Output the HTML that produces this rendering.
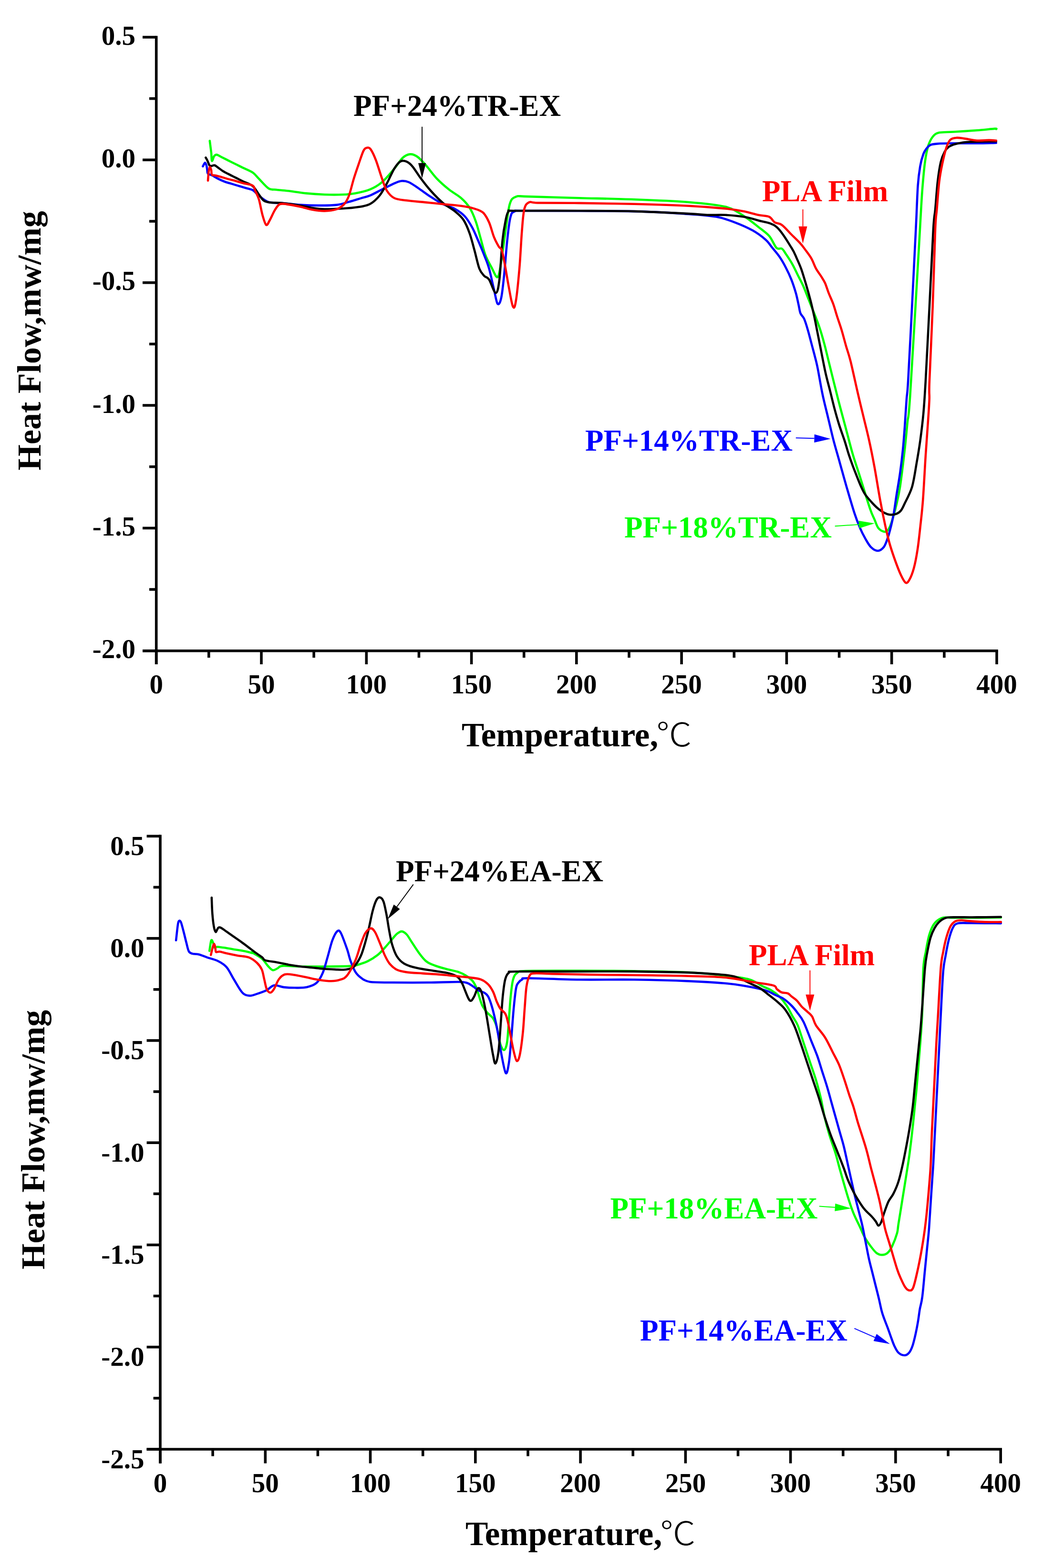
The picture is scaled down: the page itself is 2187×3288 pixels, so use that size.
<!DOCTYPE html>
<html><head><meta charset="utf-8"><style>
html,body{margin:0;padding:0;background:#fff;overflow:hidden;width:2187px;height:3288px;}
svg{display:block;}
</style></head><body>
<svg width="2187" height="3288" viewBox="0 0 2187 3288">
<rect width="2187" height="3288" fill="#fff"/>
<g fill="none" stroke-width="4.6" stroke-linejoin="round" stroke-linecap="round">
<path d="M439.8,295.3 C440.3,299.4 442.1,312.8 442.9,319.8 C443.7,326.8 443.4,336.1 444.4,337.4 C445.5,338.7 447.4,329.6 449.0,327.4 C450.7,325.3 452.0,324.1 454.4,324.4 C456.8,324.6 459.5,326.9 463.6,329.0 C467.6,331.0 473.8,334.1 478.9,336.6 C484.0,339.2 489.1,341.7 494.2,344.3 C499.3,346.8 503.5,349.0 509.5,351.9 C515.4,354.9 524.4,358.1 530.0,361.9 C535.5,365.7 537.3,369.2 542.9,374.8 C548.4,380.4 557.3,391.4 563.3,395.2 C569.2,399.0 571.8,396.9 578.6,397.8 C585.4,398.6 593.5,399.0 604.1,400.3 C614.7,401.6 629.6,404.1 642.3,405.4 C655.1,406.7 667.9,407.5 680.6,408.0 C693.4,408.4 708.2,408.4 718.9,408.0 C729.5,407.5 734.9,407.2 744.4,405.4 C753.8,403.6 766.1,401.2 775.5,397.3 C784.9,393.5 792.5,389.3 801.0,382.0 C809.5,374.8 819.3,362.5 826.5,354.0 C833.8,345.5 838.9,336.1 844.4,331.0 C849.9,325.9 854.6,323.8 859.7,323.4 C864.8,322.9 869.5,324.6 875.0,328.5 C880.5,332.3 886.1,338.7 892.9,346.3 C899.7,354.0 907.7,365.9 915.8,374.4 C923.9,382.9 932.8,390.5 941.3,397.3 C949.8,404.1 959.6,408.8 966.8,415.2 C974.1,421.6 979.6,427.5 984.7,435.6 C989.8,443.7 993.6,453.0 997.4,463.7 C1001.3,474.3 1004.3,487.5 1007.7,499.4 C1011.1,511.3 1014.0,524.9 1017.9,535.1 C1021.7,545.3 1026.4,553.0 1030.6,560.6 C1034.9,568.3 1040.0,583.1 1043.4,581.0 C1046.8,578.9 1048.3,564.0 1051.0,547.9 C1053.8,531.7 1057.0,504.1 1059.9,484.1 C1062.9,464.1 1065.3,439.9 1068.9,428.0 C1072.5,416.1 1075.3,415.3 1081.6,412.7 C1088.0,410.0 1084.9,411.7 1107.1,412.1 C1129.3,412.6 1177.7,414.2 1214.8,415.2 C1251.9,416.2 1291.4,416.8 1329.6,418.3 C1367.9,419.7 1412.5,421.5 1444.4,424.0 C1476.3,426.6 1501.8,428.8 1521.0,433.6 C1540.1,438.4 1547.8,445.7 1559.2,452.7 C1570.7,459.7 1580.9,468.7 1589.9,475.7 C1598.8,482.7 1606.4,487.5 1612.8,494.8 C1619.2,502.1 1623.7,515.2 1628.1,519.7 C1632.6,524.2 1636.3,519.5 1639.6,521.6 C1642.9,523.7 1644.2,527.2 1647.8,532.5 C1651.4,537.9 1657.1,546.2 1661.2,553.6 C1665.4,560.9 1668.9,568.9 1672.7,576.5 C1676.5,584.2 1680.4,590.9 1684.2,599.5 C1688.0,608.1 1691.8,618.6 1695.7,628.2 C1699.5,637.7 1703.3,647.0 1707.1,656.9 C1711.0,666.8 1715.1,677.0 1718.6,687.5 C1722.1,698.0 1725.0,708.2 1728.2,720.0 C1731.4,731.8 1732.9,738.7 1737.7,758.3 C1742.6,777.8 1751.6,814.6 1757.4,837.4 C1763.2,860.1 1767.6,875.7 1772.7,894.8 C1777.8,913.9 1782.9,934.6 1788.0,952.2 C1793.1,969.7 1797.3,980.9 1803.3,1000.0 C1809.4,1019.1 1819.3,1052.0 1824.4,1067.0 C1829.5,1081.9 1831.1,1083.2 1833.9,1089.9 C1836.8,1096.6 1838.4,1103.0 1841.6,1107.1 C1844.8,1111.3 1849.9,1113.8 1853.1,1114.8 C1856.2,1115.7 1858.5,1114.8 1860.7,1112.9 C1862.9,1111.0 1864.5,1107.8 1866.4,1103.3 C1868.4,1098.8 1870.0,1093.7 1872.2,1086.1 C1874.4,1078.4 1877.3,1068.6 1879.8,1057.4 C1882.4,1046.2 1884.6,1038.3 1887.5,1019.1 C1890.4,1000.0 1894.5,964.9 1897.1,942.6 C1899.6,920.3 1900.9,904.4 1902.8,885.2 C1904.7,866.1 1904.3,892.0 1908.5,827.8 C1912.7,763.6 1924.2,564.8 1927.9,500.0 C1931.7,435.2 1930.2,457.5 1931.3,439.0 C1932.4,420.5 1933.2,405.8 1934.6,389.3 C1936.0,372.7 1937.6,353.3 1939.6,339.5 C1941.5,325.7 1943.4,315.2 1946.2,306.3 C1948.9,297.5 1952.3,291.1 1956.1,286.4 C1960.0,281.7 1962.2,279.8 1969.4,278.1 C1976.6,276.5 1986.0,277.3 1999.3,276.5 C2012.5,275.7 2034.6,274.3 2049.0,273.2 C2063.4,272.1 2078.9,270.3 2085.5,269.9 C2092.1,269.4 2088.3,270.5 2088.8,270.7" stroke="#00ff00" />
<path d="M425.3,348.9 C426.1,347.6 428.6,341.5 429.9,341.2 C431.2,341.0 432.2,344.8 433.0,347.3 C433.7,349.9 434.0,353.7 434.5,356.5 C435.0,359.3 434.2,362.2 436.0,364.2 C437.8,366.1 441.9,366.3 445.2,368.0 C448.5,369.6 451.6,371.9 455.9,374.1 C460.2,376.3 466.1,379.1 471.2,381.0 C476.3,382.9 481.4,384.1 486.5,385.6 C491.6,387.1 496.7,388.6 501.8,390.2 C506.9,391.7 512.4,393.4 517.1,394.8 C521.8,396.2 526.5,396.8 530.0,398.6 C533.4,400.4 533.9,402.1 537.8,405.4 C541.6,408.7 548.4,415.0 553.1,418.2 C557.7,421.4 559.4,423.3 565.8,424.5 C572.2,425.8 580.7,425.0 591.3,425.8 C602.0,426.7 616.8,428.8 629.6,429.6 C642.3,430.5 655.1,430.9 667.9,430.9 C680.6,430.9 695.5,430.9 706.1,429.6 C716.8,428.4 723.1,425.6 731.6,423.3 C740.1,420.9 749.8,417.8 757.1,415.6 C764.5,413.4 768.2,413.1 775.5,410.1 C782.8,407.1 792.5,401.6 801.0,397.3 C809.5,393.1 819.7,387.6 826.5,384.6 C833.3,381.6 836.7,379.9 841.8,379.5 C846.9,379.1 851.2,379.5 857.1,382.0 C863.1,384.6 869.9,389.7 877.6,394.8 C885.2,399.9 894.6,407.1 903.1,412.7 C911.6,418.2 920.1,423.7 928.6,428.0 C937.1,432.2 946.4,433.9 954.1,438.2 C961.7,442.4 968.5,447.1 974.5,453.5 C980.4,459.8 985.1,467.9 989.8,476.4 C994.5,484.9 998.3,494.7 1002.6,504.5 C1006.8,514.3 1011.5,525.3 1015.3,535.1 C1019.1,544.9 1022.1,551.3 1025.5,563.2 C1028.9,575.1 1032.7,594.2 1035.7,606.5 C1038.7,618.9 1040.8,634.2 1043.4,637.1 C1045.9,640.1 1048.7,635.0 1051.0,624.4 C1053.4,613.8 1055.3,593.8 1057.4,573.4 C1059.5,553.0 1061.6,521.5 1063.8,501.9 C1065.9,482.4 1067.6,465.8 1070.2,456.0 C1072.7,446.2 1072.9,445.6 1079.1,443.3 C1085.2,440.9 1065.4,442.0 1107.1,442.0 C1148.9,442.0 1273.4,442.0 1329.6,443.1 C1385.8,444.3 1415.7,447.0 1444.4,448.9 C1473.1,450.8 1485.9,451.8 1501.8,454.6 C1517.8,457.5 1527.4,461.3 1540.1,466.1 C1552.9,470.9 1567.5,477.3 1578.4,483.3 C1589.2,489.4 1598.4,496.5 1605.2,502.5 C1612.0,508.4 1614.3,513.2 1619.1,519.1 C1624.0,525.1 1629.7,531.2 1634.4,538.3 C1639.2,545.3 1643.7,553.2 1647.8,561.2 C1652.0,569.2 1655.8,577.2 1659.3,586.1 C1662.8,595.0 1666.3,605.9 1668.9,614.8 C1671.4,623.7 1673.0,632.6 1674.6,639.7 C1676.2,646.7 1676.5,652.1 1678.4,656.9 C1680.4,661.7 1683.5,662.6 1686.1,668.4 C1688.6,674.1 1691.2,682.7 1693.7,691.3 C1696.3,699.9 1698.8,710.4 1701.4,720.0 C1703.9,729.6 1706.8,739.8 1709.0,748.7 C1711.3,757.6 1712.2,760.4 1714.8,773.6 C1717.4,786.8 1721.3,810.8 1724.9,827.8 C1728.5,844.8 1732.5,859.7 1736.3,875.7 C1740.2,891.6 1743.7,907.5 1747.8,923.5 C1752.0,939.4 1756.8,955.4 1761.2,971.3 C1765.7,987.3 1769.5,1001.6 1774.6,1019.1 C1779.7,1036.7 1787.0,1061.9 1791.8,1076.5 C1796.6,1091.2 1799.5,1098.2 1803.3,1107.1 C1807.1,1116.1 1811.0,1123.4 1814.8,1130.1 C1818.6,1136.8 1822.0,1143.2 1826.3,1147.3 C1830.6,1151.5 1836.2,1155.0 1840.6,1155.0 C1845.1,1155.0 1849.7,1151.5 1853.1,1147.3 C1856.4,1143.2 1858.5,1136.2 1860.7,1130.1 C1862.9,1124.0 1864.2,1119.9 1866.4,1111.0 C1868.7,1102.0 1871.9,1088.6 1874.1,1076.5 C1876.3,1064.4 1877.6,1052.6 1879.8,1038.3 C1882.1,1023.9 1885.3,1006.4 1887.5,990.4 C1889.7,974.5 1891.6,958.6 1893.2,942.6 C1894.8,926.7 1895.8,912.3 1897.1,894.8 C1898.3,877.3 1899.7,853.2 1900.9,837.4 C1902.1,821.6 1902.2,832.4 1904.1,799.9 C1906.0,767.5 1909.6,696.1 1912.3,642.8 C1915.0,589.5 1918.3,522.3 1920.4,480.0 C1922.5,437.7 1923.1,411.3 1924.6,389.3 C1926.2,367.2 1927.7,358.9 1929.6,347.8 C1931.5,336.7 1934.0,329.0 1936.2,322.9 C1938.4,316.8 1940.4,314.5 1942.9,311.3 C1945.4,308.1 1947.3,305.5 1951.2,303.8 C1955.0,302.2 1958.1,301.9 1966.1,301.4 C1974.1,300.8 1985.4,300.7 1999.3,300.5 C2013.1,300.4 2034.1,300.7 2049.0,300.5 C2063.9,300.4 2082.2,299.8 2088.8,299.7" stroke="#0000ff" />
<path d="M431.4,330.5 C432.1,331.6 434.0,334.7 435.2,337.4 C436.5,340.1 437.8,344.8 439.1,346.6 C440.3,348.3 441.1,348.1 442.9,348.1 C444.7,348.1 447.6,346.2 449.8,346.6 C452.0,346.9 453.0,348.3 455.9,350.4 C458.8,352.4 463.6,356.4 467.4,358.8 C471.2,361.2 474.4,362.6 478.9,364.9 C483.3,367.2 489.1,370.0 494.2,372.6 C499.3,375.1 503.5,377.3 509.5,380.2 C515.4,383.2 524.4,385.6 530.0,390.2 C535.5,394.8 539.0,402.9 542.9,408.0 C546.7,413.0 549.2,418.0 553.1,420.7 C556.9,423.5 559.4,423.7 565.8,424.5 C572.2,425.4 580.7,424.8 591.3,425.8 C602.0,426.9 619.0,429.2 629.6,430.9 C640.2,432.6 646.6,434.7 655.1,436.0 C663.6,437.3 670.0,438.4 680.6,438.6 C691.2,438.8 707.3,438.0 718.9,437.3 C730.4,436.6 740.6,435.9 750.0,434.3 C759.4,432.8 767.9,432.0 775.5,428.0 C783.2,423.9 790.0,417.3 795.9,410.1 C801.9,402.9 806.1,393.9 811.2,384.6 C816.3,375.2 821.9,361.6 826.5,354.0 C831.2,346.3 835.0,341.2 839.3,338.7 C843.5,336.1 847.8,337.0 852.0,338.7 C856.3,340.4 859.7,342.9 864.8,348.9 C869.9,354.8 876.3,365.9 882.7,374.4 C889.0,382.9 895.4,391.4 903.1,399.9 C910.7,408.4 920.1,418.2 928.6,425.4 C937.1,432.6 946.9,437.3 954.1,443.3 C961.3,449.2 966.8,453.5 971.9,461.1 C977.0,468.8 980.9,478.6 984.7,489.2 C988.5,499.8 991.5,512.6 994.9,524.9 C998.3,537.2 1001.7,554.2 1005.1,563.2 C1008.5,572.1 1011.9,574.6 1015.3,578.5 C1018.7,582.3 1021.5,580.2 1025.5,586.1 C1029.5,592.1 1035.9,614.2 1039.5,614.2 C1043.2,614.2 1044.9,604.4 1047.2,586.1 C1049.5,567.8 1051.4,524.9 1053.6,504.5 C1055.7,484.1 1057.8,473.9 1059.9,463.7 C1062.1,453.5 1062.7,446.9 1066.3,443.3 C1069.9,439.7 1056.9,442.2 1081.6,442.0 C1106.4,441.8 1173.5,441.8 1214.8,442.0 C1256.1,442.2 1291.4,442.1 1329.6,443.1 C1367.9,444.2 1418.9,446.8 1444.4,448.1 C1469.9,449.4 1469.9,450.4 1482.7,450.8 C1495.5,451.2 1508.2,450.2 1521.0,450.8 C1533.7,451.4 1547.8,452.7 1559.2,454.6 C1570.7,456.5 1578.4,458.8 1589.9,462.3 C1601.3,465.8 1616.6,466.2 1628.1,475.7 C1639.7,485.2 1652.2,508.1 1659.3,519.1 C1666.4,530.2 1667.3,534.4 1670.8,542.1 C1674.3,549.7 1677.2,556.1 1680.4,565.0 C1683.5,574.0 1686.7,584.8 1689.9,595.7 C1693.1,606.5 1696.6,618.9 1699.5,630.1 C1702.4,641.3 1704.9,652.4 1707.1,662.6 C1709.4,672.8 1711.0,681.7 1712.9,691.3 C1714.8,700.9 1715.7,705.2 1718.6,720.0 C1721.6,734.8 1727.0,763.6 1730.6,780.0 C1734.2,796.4 1737.0,805.5 1740.2,818.3 C1743.4,831.0 1746.6,844.6 1749.7,856.5 C1752.9,868.5 1755.7,878.5 1759.3,890.0 C1762.9,901.5 1768.1,915.3 1771.4,925.5 C1774.7,935.7 1776.3,942.5 1779.1,951.0 C1781.8,959.5 1785.0,968.5 1788.0,976.5 C1791.0,984.6 1794.0,992.0 1796.9,999.5 C1799.9,1006.9 1802.9,1014.8 1805.9,1021.2 C1808.8,1027.6 1811.2,1032.4 1814.8,1037.8 C1818.4,1043.1 1823.3,1048.4 1827.6,1053.1 C1831.8,1057.7 1836.1,1062.2 1840.3,1065.8 C1844.6,1069.4 1848.8,1072.5 1853.1,1074.7 C1857.3,1077.0 1861.6,1078.7 1865.8,1079.2 C1870.1,1079.7 1874.7,1079.3 1878.6,1077.9 C1882.4,1076.6 1885.8,1074.4 1888.8,1070.9 C1891.8,1067.4 1892.5,1065.2 1896.4,1056.9 C1900.4,1048.6 1908.1,1035.3 1912.4,1021.1 C1916.6,1006.8 1919.1,987.6 1921.9,971.3 C1924.8,955.1 1927.2,941.0 1929.6,923.5 C1932.0,905.9 1934.4,886.7 1936.3,866.1 C1938.1,845.5 1938.7,837.2 1940.8,799.9 C1942.9,762.7 1946.2,696.1 1948.9,642.8 C1951.6,589.5 1955.0,514.0 1957.0,480.0 C1959.1,446.0 1959.6,455.5 1961.1,439.0 C1962.6,422.5 1964.2,397.5 1966.1,381.0 C1968.0,364.4 1970.2,350.0 1972.7,339.5 C1975.2,329.0 1978.2,323.2 1981.0,317.9 C1983.8,312.7 1985.7,310.6 1989.3,308.0 C1992.9,305.4 1996.5,303.8 2002.6,302.2 C2008.7,300.5 2018.0,298.9 2025.8,298.0 C2033.5,297.2 2038.5,297.5 2049.0,297.2 C2059.5,296.9 2082.2,296.5 2088.8,296.4" stroke="#000000" />
<path d="M436.0,378.7 C436.3,375.6 436.9,365.1 437.5,360.3 C438.2,355.6 438.9,351.0 439.8,350.4 C440.7,349.8 442.1,353.8 442.9,356.5 C443.7,359.2 442.9,364.5 444.4,366.5 C446.0,368.4 448.9,367.2 452.1,368.0 C455.3,368.8 459.1,369.8 463.6,371.0 C468.0,372.3 473.8,374.2 478.9,375.6 C484.0,377.0 489.1,378.1 494.2,379.5 C499.3,380.9 503.5,382.4 509.5,384.1 C515.4,385.7 525.7,386.7 530.0,389.4 C534.3,392.1 533.1,395.5 535.2,400.3 C537.4,405.1 540.3,409.7 542.9,418.2 C545.4,426.7 548.0,442.4 550.5,451.3 C553.1,460.3 555.6,470.0 558.2,471.7 C560.7,473.4 562.8,466.6 565.8,461.5 C568.8,456.4 572.6,446.6 576.0,441.1 C579.4,435.6 582.0,430.5 586.2,428.4 C590.5,426.2 594.3,427.5 601.5,428.4 C608.8,429.2 620.7,431.6 629.6,433.5 C638.5,435.4 646.6,438.4 655.1,439.8 C663.6,441.3 672.1,442.6 680.6,442.4 C689.1,442.2 699.3,440.9 706.1,438.6 C712.9,436.2 717.2,433.0 721.4,428.4 C725.7,423.7 728.2,419.4 731.6,410.5 C735.0,401.6 738.4,385.9 741.8,374.8 C745.2,363.7 748.6,354.0 752.0,344.2 C755.4,334.4 759.3,321.9 762.2,316.1 C765.2,310.4 767.3,310.2 769.9,309.7 C772.4,309.3 774.5,309.2 777.6,313.6 C780.6,318.0 784.4,326.0 788.3,336.1 C792.2,346.3 797.2,363.8 801.0,374.4 C804.8,385.0 807.0,393.1 811.2,399.9 C815.5,406.7 819.7,411.8 826.5,415.2 C833.3,418.6 841.4,418.8 852.0,420.3 C862.7,421.8 877.6,422.9 890.3,424.1 C903.1,425.4 915.8,426.7 928.6,428.0 C941.3,429.2 956.2,430.3 966.8,431.8 C977.5,433.3 984.7,434.5 992.3,436.9 C1000.0,439.2 1007.2,440.9 1012.8,445.8 C1018.3,450.7 1021.7,457.7 1025.5,466.2 C1029.3,474.7 1032.3,488.3 1035.7,496.8 C1039.1,505.3 1043.2,512.6 1045.9,517.2 C1048.7,521.9 1050.2,518.5 1052.3,524.9 C1054.4,531.3 1056.3,543.2 1058.7,555.5 C1061.0,567.8 1063.6,584.4 1066.3,598.9 C1069.1,613.3 1072.7,636.7 1075.3,642.2 C1077.8,647.8 1079.3,645.6 1081.6,632.0 C1084.0,618.4 1087.2,585.3 1089.3,560.6 C1091.4,536.0 1092.7,504.5 1094.4,484.1 C1096.1,463.7 1096.9,448.2 1099.5,438.2 C1102.0,428.2 1105.0,426.3 1109.7,424.1 C1114.4,422.0 1110.0,425.1 1127.6,425.4 C1145.1,425.7 1181.1,425.5 1214.8,425.9 C1248.5,426.3 1291.4,426.9 1329.6,427.8 C1367.9,428.8 1412.5,430.1 1444.4,431.7 C1476.3,433.3 1501.8,435.5 1521.0,437.4 C1540.1,439.3 1547.8,440.9 1559.2,443.1 C1570.7,445.4 1580.9,448.9 1589.9,450.8 C1598.8,452.7 1607.1,452.1 1612.8,454.6 C1618.6,457.2 1619.8,463.2 1624.3,466.1 C1628.8,469.0 1633.9,467.7 1639.6,471.8 C1645.4,476.0 1652.4,484.6 1658.7,491.0 C1665.1,497.4 1673.0,504.8 1677.9,510.1 C1682.8,515.4 1684.1,517.6 1688.0,523.0 C1691.9,528.3 1697.6,535.4 1701.4,542.1 C1705.2,548.8 1707.5,556.8 1711.0,563.1 C1714.5,569.5 1719.3,575.3 1722.4,580.4 C1725.6,585.5 1727.5,588.0 1730.1,593.7 C1732.6,599.5 1734.9,607.5 1737.7,614.8 C1740.6,622.1 1744.4,629.8 1747.3,637.7 C1750.2,645.7 1752.1,653.7 1755.0,662.6 C1757.8,671.5 1761.3,680.8 1764.5,691.3 C1767.7,701.8 1770.9,714.6 1774.1,725.8 C1777.3,736.9 1779.4,741.3 1783.7,758.3 C1787.9,775.3 1794.9,808.3 1799.5,827.8 C1804.0,847.4 1807.1,859.7 1811.0,875.7 C1814.8,891.6 1818.6,905.9 1822.4,923.5 C1826.3,941.0 1830.1,960.2 1833.9,980.9 C1837.7,1001.6 1841.6,1027.1 1845.4,1047.8 C1849.2,1068.6 1853.4,1089.3 1856.9,1105.2 C1860.4,1121.2 1862.9,1131.4 1866.4,1143.5 C1870.0,1155.6 1874.1,1167.4 1877.9,1177.9 C1881.7,1188.4 1885.9,1199.3 1889.4,1206.6 C1892.9,1214.0 1896.1,1220.3 1899.0,1221.9 C1901.8,1223.5 1903.7,1221.3 1906.6,1216.2 C1909.5,1211.1 1913.3,1201.8 1916.2,1191.3 C1919.1,1180.8 1921.6,1167.4 1923.8,1153.1 C1926.1,1138.7 1927.7,1122.8 1929.6,1105.2 C1931.5,1087.7 1933.4,1073.3 1935.3,1047.8 C1937.2,1022.3 1939.3,979.3 1941.1,952.2 C1942.8,925.1 1944.6,904.4 1945.8,885.2 C1947.1,866.1 1948.2,851.6 1948.7,837.4 C1949.2,823.2 1947.7,832.4 1948.9,799.9 C1950.1,767.5 1953.6,696.1 1955.7,642.8 C1957.7,589.5 1959.7,514.0 1961.1,480.0 C1962.6,446.0 1963.0,455.5 1964.4,439.0 C1965.8,422.5 1967.5,397.0 1969.4,381.0 C1971.3,364.9 1973.5,354.7 1976.0,342.8 C1978.5,330.9 1981.6,317.9 1984.3,309.7 C1987.1,301.4 1989.0,296.5 1992.6,293.1 C1996.2,289.6 2000.9,289.3 2005.9,288.9 C2010.9,288.5 2015.3,289.6 2022.5,290.6 C2029.7,291.5 2040.4,294.2 2049.0,294.7 C2057.6,295.3 2067.2,293.9 2073.9,293.9 C2080.5,293.9 2086.3,294.6 2088.8,294.7" stroke="#ff0000" />
<path d="M439.2,1993.9 C439.8,1990.2 441.7,1974.6 443.0,1971.8 C444.3,1969.0 445.7,1974.6 446.8,1977.1 C448.0,1979.7 448.5,1985.7 449.9,1987.1 C451.3,1988.5 452.2,1985.5 455.2,1985.5 C458.3,1985.5 462.3,1986.2 468.3,1987.1 C474.2,1988.0 483.6,1989.6 491.2,1990.9 C498.9,1992.2 507.8,1993.4 514.2,1994.7 C520.5,1996.0 527.1,1998.1 529.5,1998.5 C531.9,1999.0 525.3,1995.4 528.6,1997.3 C531.8,1999.3 543.5,2005.4 549.0,2010.1 C554.5,2014.8 557.9,2021.4 561.7,2025.4 C565.6,2029.4 568.5,2033.5 571.9,2034.3 C575.3,2035.2 578.7,2032.0 582.1,2030.5 C585.5,2029.0 584.3,2026.0 592.3,2025.4 C600.4,2024.8 615.7,2026.5 630.6,2026.7 C645.5,2026.9 664.6,2026.8 681.6,2026.7 C698.6,2026.6 722.0,2026.3 732.7,2025.9 C743.3,2025.6 739.1,2026.3 745.5,2024.5 C751.9,2022.8 763.4,2019.2 771.0,2015.6 C778.7,2012.0 785.5,2007.5 791.4,2002.9 C797.4,1998.2 801.6,1993.1 806.7,1987.6 C811.8,1982.0 817.8,1974.6 822.0,1969.7 C826.3,1964.8 828.8,1961.0 832.2,1958.2 C835.6,1955.5 839.0,1952.9 842.4,1953.1 C845.9,1953.3 849.3,1955.9 852.7,1959.5 C856.1,1963.1 858.6,1968.4 862.9,1974.8 C867.1,1981.2 873.1,1991.0 878.2,1997.8 C883.3,2004.6 887.9,2011.1 893.5,2015.6 C899.0,2020.1 904.1,2021.8 911.3,2024.5 C918.6,2027.3 928.3,2029.9 936.8,2032.2 C945.3,2034.5 955.5,2036.2 962.3,2038.6 C969.1,2040.9 973.0,2043.2 977.7,2046.2 C982.3,2049.2 987.0,2052.6 990.4,2056.4 C993.8,2060.3 995.9,2064.5 998.1,2069.2 C1000.2,2073.9 1001.0,2078.1 1003.2,2084.5 C1005.3,2090.9 1007.8,2101.1 1010.8,2107.4 C1013.8,2113.8 1017.2,2118.1 1021.0,2122.8 C1024.8,2127.4 1030.4,2130.4 1033.8,2135.5 C1037.2,2140.6 1038.9,2144.4 1041.4,2153.4 C1044.0,2162.3 1046.5,2181.0 1049.1,2189.1 C1051.6,2197.2 1054.4,2202.3 1056.7,2201.8 C1059.1,2201.4 1061.4,2196.7 1063.1,2186.5 C1064.8,2176.3 1065.7,2156.8 1066.9,2140.6 C1068.2,2124.5 1069.3,2104.0 1070.8,2089.6 C1072.3,2075.1 1073.5,2062.2 1075.9,2053.9 C1078.2,2045.6 1080.3,2042.8 1084.8,2039.8 C1089.3,2036.9 1081.0,2036.7 1102.7,2036.0 C1124.3,2035.3 1177.0,2035.5 1214.8,2035.6 C1252.6,2035.6 1291.4,2035.8 1329.6,2036.4 C1367.9,2036.9 1412.5,2037.4 1444.4,2039.0 C1476.3,2040.6 1499.9,2043.5 1521.0,2045.9 C1542.0,2048.3 1557.8,2050.0 1570.7,2053.6 C1583.6,2057.2 1590.5,2063.8 1598.3,2067.7 C1606.0,2071.5 1611.4,2073.0 1617.4,2076.6 C1623.4,2080.2 1628.7,2084.0 1634.0,2089.3 C1639.3,2094.7 1644.6,2101.5 1649.3,2108.5 C1654.0,2115.5 1658.1,2124.5 1662.0,2131.4 C1665.9,2138.4 1668.8,2140.5 1672.7,2150.0 C1676.6,2159.5 1681.2,2175.5 1685.5,2188.2 C1689.7,2200.9 1693.9,2213.6 1698.2,2226.4 C1702.4,2239.1 1707.1,2251.8 1710.9,2264.5 C1714.7,2277.3 1718.1,2290.0 1721.1,2302.7 C1724.1,2315.5 1725.8,2328.2 1728.7,2340.9 C1731.7,2353.6 1735.1,2366.4 1738.9,2379.1 C1742.7,2391.8 1748.0,2405.4 1751.6,2417.3 C1755.2,2429.1 1757.5,2439.2 1760.5,2450.1 C1763.6,2461.1 1766.6,2472.0 1769.9,2483.0 C1773.1,2494.0 1776.5,2506.0 1779.8,2516.2 C1783.1,2526.4 1785.9,2535.0 1789.8,2544.4 C1793.6,2553.8 1799.1,2564.3 1803.0,2572.6 C1806.9,2580.9 1809.1,2587.2 1813.0,2594.1 C1816.8,2601.0 1822.1,2608.5 1826.2,2614.0 C1830.4,2619.6 1834.0,2624.4 1837.8,2627.3 C1841.7,2630.2 1845.6,2631.4 1849.5,2631.4 C1853.3,2631.4 1857.5,2630.5 1861.1,2627.3 C1864.7,2624.1 1867.7,2619.3 1871.0,2612.4 C1874.3,2605.5 1878.8,2593.5 1881.0,2585.8 C1883.1,2578.2 1882.0,2578.7 1883.9,2566.7 C1885.9,2554.7 1889.6,2531.3 1892.4,2513.7 C1895.3,2496.0 1898.4,2476.5 1900.9,2460.6 C1903.4,2444.7 1905.2,2434.1 1907.3,2418.2 C1909.4,2402.3 1911.9,2381.1 1913.6,2365.2 C1915.4,2349.3 1916.5,2336.9 1917.9,2322.7 C1919.3,2308.6 1920.7,2296.2 1922.1,2280.3 C1923.5,2264.4 1925.0,2245.0 1926.4,2227.3 C1927.8,2209.6 1929.4,2191.9 1930.6,2174.2 C1931.8,2156.6 1932.9,2145.4 1933.8,2121.2 C1934.7,2097.0 1935.0,2050.1 1936.2,2029.3 C1937.5,2008.4 1939.3,2007.1 1941.2,1996.1 C1943.1,1985.0 1945.4,1972.0 1947.8,1962.9 C1950.3,1953.8 1953.1,1946.9 1956.1,1941.4 C1959.2,1935.8 1962.2,1932.7 1966.1,1929.8 C1970.0,1926.8 1973.8,1924.8 1979.4,1923.9 C1984.9,1923.1 1987.6,1924.4 1999.3,1924.4 C2010.9,1924.5 2032.4,1924.5 2049.0,1924.4 C2065.6,1924.4 2090.5,1924.0 2098.8,1923.9" stroke="#00ff00" />
<path d="M369.1,1971.8 C369.8,1966.3 371.9,1945.5 373.0,1938.7 C374.0,1931.9 374.4,1931.9 375.5,1931.0 C376.6,1930.2 377.8,1930.2 379.3,1933.6 C380.8,1937.0 382.5,1944.2 384.4,1951.4 C386.4,1958.7 388.9,1969.7 390.8,1976.9 C392.7,1984.2 393.8,1991.0 395.9,1994.8 C398.0,1998.6 400.2,1998.8 403.6,1999.9 C407.0,2001.0 411.2,1999.9 416.3,2001.2 C421.4,2002.4 427.4,2005.2 434.2,2007.6 C441.0,2009.9 450.3,2011.8 457.1,2015.2 C463.9,2018.6 469.5,2021.6 475.0,2028.0 C480.5,2034.3 484.8,2044.5 490.3,2053.5 C495.8,2062.4 502.6,2075.8 508.2,2081.5 C513.7,2087.3 518.4,2087.5 523.5,2087.9 C528.6,2088.3 532.8,2086.0 538.8,2084.1 C544.7,2082.2 553.2,2079.4 559.2,2076.4 C565.1,2073.5 568.5,2067.3 574.5,2066.2 C580.4,2065.2 587.7,2069.2 594.9,2070.1 C602.1,2070.9 609.8,2071.3 617.9,2071.3 C625.9,2071.3 635.7,2071.8 643.4,2070.1 C651.0,2068.4 658.2,2066.0 663.8,2061.1 C669.3,2056.2 672.7,2049.6 676.5,2040.7 C680.4,2031.8 683.3,2019.0 686.7,2007.6 C690.1,1996.1 693.5,1981.0 696.9,1971.8 C700.3,1962.7 704.2,1955.3 707.1,1952.7 C710.1,1950.2 711.4,1950.3 714.8,1956.5 C718.2,1962.8 724.2,1980.3 727.7,1990.1 C731.1,1999.9 732.3,2007.5 735.3,2015.6 C738.3,2023.7 741.7,2032.6 745.5,2038.6 C749.3,2044.5 753.2,2047.9 758.3,2051.3 C763.4,2054.7 765.5,2057.5 776.1,2059.0 C786.8,2060.5 801.6,2060.0 822.0,2060.3 C842.4,2060.5 875.2,2060.5 898.6,2060.3 C922.0,2060.0 948.7,2058.8 962.3,2059.0 C976.0,2059.2 975.1,2059.8 980.2,2061.5 C985.3,2063.2 989.1,2066.6 993.0,2069.2 C996.8,2071.7 999.3,2074.7 1003.2,2076.8 C1007.0,2079.0 1012.5,2079.8 1015.9,2081.9 C1019.3,2084.1 1021.0,2084.9 1023.6,2089.6 C1026.1,2094.3 1028.7,2101.5 1031.2,2110.0 C1033.8,2118.5 1036.8,2131.3 1038.9,2140.6 C1041.0,2150.0 1041.9,2154.2 1044.0,2166.1 C1046.1,2178.0 1048.9,2198.0 1051.6,2212.0 C1054.4,2226.1 1058.0,2247.3 1060.6,2250.3 C1063.1,2253.3 1065.0,2241.8 1066.9,2229.9 C1068.9,2218.0 1070.3,2198.0 1072.0,2178.9 C1073.7,2159.7 1075.4,2133.0 1077.1,2115.1 C1078.8,2097.2 1080.5,2080.9 1082.2,2071.7 C1083.9,2062.6 1085.2,2063.2 1087.3,2060.3 C1089.5,2057.3 1091.6,2055.4 1095.0,2053.9 C1098.4,2052.4 1087.8,2051.2 1107.8,2051.3 C1127.7,2051.4 1177.8,2053.8 1214.8,2054.3 C1251.8,2054.8 1291.4,2053.8 1329.6,2054.3 C1367.9,2054.9 1412.5,2056.1 1444.4,2057.4 C1476.3,2058.7 1501.8,2060.4 1521.0,2062.0 C1540.1,2063.6 1545.3,2064.5 1559.2,2067.0 C1573.2,2069.4 1593.9,2073.5 1604.6,2076.6 C1615.4,2079.7 1617.4,2082.5 1623.8,2085.5 C1630.2,2088.5 1637.0,2090.6 1642.9,2094.4 C1648.9,2098.3 1654.6,2103.6 1659.5,2108.5 C1664.4,2113.4 1668.0,2118.0 1672.2,2123.8 C1676.5,2129.5 1680.3,2133.2 1685.0,2142.9 C1689.7,2152.6 1696.0,2170.0 1700.7,2181.8 C1705.5,2193.6 1709.6,2203.0 1713.5,2213.6 C1717.3,2224.2 1720.2,2234.9 1723.6,2245.5 C1727.0,2256.1 1730.6,2266.7 1733.8,2277.3 C1737.0,2287.9 1739.8,2298.5 1742.7,2309.1 C1745.7,2319.7 1748.7,2330.3 1751.6,2340.9 C1754.6,2351.5 1757.6,2362.1 1760.5,2372.7 C1763.5,2383.3 1766.3,2391.7 1769.5,2404.6 C1772.6,2417.4 1776.0,2433.7 1779.6,2450.1 C1783.3,2466.5 1788.1,2488.6 1791.4,2502.9 C1794.8,2517.2 1796.9,2525.0 1799.7,2536.1 C1802.5,2547.1 1805.5,2558.2 1808.0,2569.3 C1810.5,2580.3 1812.3,2590.6 1814.6,2602.4 C1817.0,2614.2 1819.7,2629.1 1822.1,2640.0 C1824.5,2650.9 1826.8,2658.7 1829.1,2668.1 C1831.4,2677.4 1833.8,2686.8 1836.1,2696.1 C1838.5,2705.5 1841.0,2715.3 1843.1,2724.2 C1845.2,2733.1 1846.9,2742.4 1848.8,2749.4 C1850.6,2756.5 1852.3,2760.4 1854.4,2766.3 C1856.5,2772.1 1859.0,2778.2 1861.4,2784.5 C1863.7,2790.8 1866.1,2797.9 1868.4,2804.2 C1870.7,2810.5 1872.8,2817.0 1875.4,2822.4 C1878.0,2827.8 1880.3,2833.2 1883.8,2836.4 C1887.3,2839.7 1892.7,2842.0 1896.5,2842.0 C1900.2,2842.0 1903.5,2839.7 1906.3,2836.4 C1909.1,2833.2 1911.2,2828.3 1913.3,2822.4 C1915.4,2816.6 1917.0,2809.5 1918.9,2801.4 C1920.8,2793.2 1922.9,2782.7 1924.5,2773.3 C1926.2,2763.9 1927.2,2754.1 1928.7,2745.2 C1930.3,2736.3 1932.1,2733.2 1933.8,2719.9 C1935.6,2706.6 1937.5,2682.5 1939.2,2665.5 C1940.9,2648.5 1942.5,2631.9 1943.9,2618.0 C1945.3,2604.2 1946.5,2594.3 1947.5,2582.4 C1948.5,2570.6 1949.1,2558.7 1949.9,2546.8 C1950.6,2535.0 1951.4,2523.1 1952.2,2511.2 C1953.0,2499.3 1953.8,2487.5 1954.6,2475.6 C1955.4,2463.7 1956.0,2456.6 1957.0,2440.0 C1957.9,2423.4 1959.2,2397.1 1960.3,2375.8 C1961.4,2354.5 1962.4,2333.3 1963.5,2312.1 C1964.6,2290.9 1965.6,2269.7 1966.7,2248.5 C1967.7,2227.3 1968.8,2206.1 1969.9,2184.9 C1970.9,2163.6 1971.7,2145.8 1973.0,2121.2 C1974.3,2096.7 1976.1,2057.0 1977.7,2037.5 C1979.3,2018.1 1980.7,2015.4 1982.7,2004.4 C1984.6,1993.3 1986.8,1980.9 1989.3,1971.2 C1991.8,1961.5 1994.6,1952.1 1997.6,1946.3 C2000.6,1940.5 2001.7,1938.2 2007.5,1936.4 C2013.3,1934.6 2017.2,1935.6 2032.4,1935.6 C2047.6,1935.5 2087.7,1936.0 2098.8,1936.1" stroke="#0000ff" />
<path d="M443.8,1882.2 C444.0,1887.9 444.5,1905.8 445.3,1915.9 C446.1,1926.0 447.2,1936.3 448.4,1942.7 C449.5,1949.1 451.0,1953.0 452.2,1954.2 C453.3,1955.3 454.2,1951.1 455.2,1949.6 C456.3,1948.0 456.9,1945.6 458.3,1945.0 C459.7,1944.3 460.7,1944.2 463.7,1945.7 C466.6,1947.3 471.3,1951.0 475.9,1954.2 C480.5,1957.4 486.1,1961.3 491.2,1964.9 C496.3,1968.4 501.4,1971.9 506.5,1975.6 C511.6,1979.3 516.7,1983.2 521.8,1987.1 C526.9,1990.9 532.4,1995.1 537.1,1998.5 C541.8,2002.0 546.7,2005.2 550.0,2007.7 C553.2,2010.3 551.7,2012.3 556.6,2013.9 C561.6,2015.6 571.5,2016.3 579.6,2017.8 C587.7,2019.2 596.6,2021.4 605.1,2022.9 C613.6,2024.3 622.1,2025.6 630.6,2026.7 C639.1,2027.7 647.6,2028.4 656.1,2029.2 C664.6,2030.1 673.1,2031.1 681.6,2031.8 C690.1,2032.4 700.7,2032.8 707.1,2033.1 C713.5,2033.3 715.3,2033.8 720.0,2033.5 C724.7,2033.1 731.1,2032.6 735.3,2030.9 C739.6,2029.2 741.7,2028.4 745.5,2023.3 C749.3,2018.2 754.0,2011.4 758.3,2000.3 C762.5,1989.3 767.2,1971.8 771.0,1956.9 C774.8,1942.1 778.2,1922.5 781.2,1911.0 C784.2,1899.5 786.3,1893.0 788.9,1888.1 C791.4,1883.2 794.0,1881.3 796.5,1881.7 C799.1,1882.1 801.8,1884.4 804.2,1890.6 C806.5,1896.8 808.6,1908.9 810.6,1918.7 C812.5,1928.5 813.8,1939.1 815.7,1949.3 C817.6,1959.5 819.3,1970.5 822.0,1979.9 C824.8,1989.3 828.0,1998.6 832.2,2005.4 C836.5,2012.2 840.7,2016.7 847.6,2020.7 C854.4,2024.8 862.4,2027.1 873.1,2029.6 C883.7,2032.2 899.8,2034.1 911.3,2036.0 C922.8,2037.9 933.9,2039.0 941.9,2041.1 C950.0,2043.2 955.3,2045.4 959.8,2048.8 C964.3,2052.2 966.2,2056.9 968.7,2061.5 C971.3,2066.2 972.8,2071.3 975.1,2076.8 C977.4,2082.4 980.6,2091.1 982.8,2094.7 C984.9,2098.3 985.9,2099.4 987.9,2098.5 C989.8,2097.7 992.1,2093.6 994.2,2089.6 C996.4,2085.6 998.7,2077.0 1000.6,2074.3 C1002.5,2071.5 1004.0,2071.3 1005.7,2073.0 C1007.4,2074.7 1008.7,2076.6 1010.8,2084.5 C1012.9,2092.4 1015.9,2106.6 1018.5,2120.2 C1021.0,2133.8 1023.6,2150.8 1026.1,2166.1 C1028.7,2181.4 1031.6,2201.4 1033.8,2212.0 C1035.9,2222.7 1037.0,2231.2 1038.9,2229.9 C1040.8,2228.6 1043.3,2219.3 1045.3,2204.4 C1047.2,2189.5 1048.9,2159.7 1050.4,2140.6 C1051.8,2121.5 1052.7,2104.0 1054.2,2089.6 C1055.7,2075.1 1057.2,2062.2 1059.3,2053.9 C1061.4,2045.6 1063.1,2042.6 1066.9,2039.8 C1070.8,2037.1 1057.6,2037.8 1082.2,2037.3 C1106.9,2036.8 1173.6,2037.2 1214.8,2037.1 C1256.0,2037.1 1291.4,2036.7 1329.6,2037.1 C1367.9,2037.5 1415.7,2038.5 1444.4,2039.4 C1473.1,2040.4 1485.9,2041.5 1501.8,2042.9 C1517.8,2044.3 1527.2,2044.1 1540.1,2047.8 C1553.0,2051.5 1570.1,2060.9 1579.1,2065.1 C1588.2,2069.3 1589.1,2069.4 1594.4,2072.8 C1599.8,2076.2 1605.1,2080.8 1611.0,2085.5 C1617.0,2090.2 1624.2,2095.5 1630.2,2100.8 C1636.1,2106.1 1640.9,2109.2 1646.7,2117.4 C1652.6,2125.6 1659.7,2138.2 1665.1,2150.0 C1670.5,2161.8 1674.6,2175.5 1679.1,2188.2 C1683.5,2200.9 1687.6,2213.6 1691.8,2226.4 C1696.1,2239.1 1700.3,2251.8 1704.5,2264.5 C1708.8,2277.3 1713.2,2290.0 1717.3,2302.7 C1721.3,2315.5 1724.7,2328.2 1728.7,2340.9 C1732.8,2353.6 1736.8,2366.4 1741.5,2379.1 C1746.1,2391.8 1752.1,2405.4 1756.7,2417.3 C1761.4,2429.1 1765.9,2440.5 1769.5,2450.1 C1773.0,2459.7 1774.8,2466.5 1778.1,2474.7 C1781.5,2483.0 1785.9,2492.1 1789.8,2499.6 C1793.6,2507.1 1797.5,2513.4 1801.4,2519.5 C1805.2,2525.6 1808.5,2530.8 1813.0,2536.1 C1817.4,2541.3 1824.0,2546.9 1827.9,2551.0 C1831.8,2555.2 1833.8,2557.8 1836.2,2561.0 C1838.5,2564.1 1840.1,2569.8 1842.0,2570.1 C1843.9,2570.4 1845.9,2566.7 1847.8,2562.6 C1849.7,2558.5 1850.7,2552.6 1853.2,2545.5 C1855.7,2538.4 1859.4,2527.1 1862.7,2520.0 C1866.1,2513.0 1869.8,2510.1 1873.3,2503.1 C1876.9,2496.0 1880.8,2487.5 1883.9,2477.6 C1887.1,2467.7 1889.6,2456.4 1892.4,2443.7 C1895.3,2430.9 1898.4,2414.3 1900.9,2401.2 C1903.4,2388.1 1905.2,2378.2 1907.3,2365.2 C1909.4,2352.1 1911.9,2336.9 1913.6,2322.7 C1915.4,2308.6 1916.5,2294.5 1917.9,2280.3 C1919.3,2266.2 1920.7,2252.0 1922.1,2237.9 C1923.5,2223.7 1925.0,2209.6 1926.4,2195.5 C1927.8,2181.3 1929.4,2167.2 1930.6,2153.0 C1931.8,2138.9 1932.3,2131.2 1933.8,2110.6 C1935.3,2090.0 1937.8,2048.3 1939.6,2029.3 C1941.3,2010.2 1942.6,2006.6 1944.5,1996.1 C1946.5,1985.6 1948.7,1974.5 1951.2,1966.2 C1953.6,1957.9 1956.4,1951.9 1959.5,1946.3 C1962.5,1940.8 1965.5,1936.7 1969.4,1933.1 C1973.3,1929.5 1977.7,1926.4 1982.7,1924.8 C1987.6,1923.2 1988.2,1923.7 1999.3,1923.4 C2010.3,1923.2 2032.4,1923.6 2049.0,1923.4 C2065.6,1923.3 2090.5,1922.9 2098.8,1922.8" stroke="#000000" />
<path d="M442.2,2002.4 C442.9,1999.7 444.9,1990.1 446.1,1986.3 C447.2,1982.5 448.2,1979.3 449.1,1979.4 C450.0,1979.5 450.8,1984.3 451.4,1987.1 C452.1,1989.9 451.4,1994.8 453.0,1996.2 C454.5,1997.6 456.8,1995.0 460.6,1995.5 C464.4,1996.0 469.5,1997.9 475.9,1999.3 C482.3,2000.7 491.2,2002.5 498.9,2003.9 C506.5,2005.3 515.2,2005.2 521.8,2007.7 C528.5,2010.2 534.2,2014.8 538.8,2019.0 C543.3,2023.3 546.4,2027.3 549.0,2033.1 C551.5,2038.8 552.4,2046.7 554.1,2053.5 C555.8,2060.3 557.1,2069.2 559.2,2073.9 C561.3,2078.6 564.3,2081.5 566.8,2081.5 C569.4,2081.5 571.5,2078.6 574.5,2073.9 C577.5,2069.2 580.9,2058.6 584.7,2053.5 C588.5,2048.4 591.9,2044.8 597.4,2043.3 C603.0,2041.8 610.2,2043.5 617.9,2044.5 C625.5,2045.6 634.9,2047.9 643.4,2049.6 C651.9,2051.3 660.4,2053.5 668.9,2054.7 C677.4,2056.0 687.2,2057.3 694.4,2057.3 C701.6,2057.3 706.7,2056.7 712.2,2054.7 C717.8,2052.8 722.0,2052.8 727.6,2045.8 C733.1,2038.9 740.8,2023.6 745.5,2013.1 C750.2,2002.5 752.3,1991.8 755.7,1982.4 C759.1,1973.1 762.3,1962.9 765.9,1956.9 C769.5,1951.0 774.0,1947.2 777.4,1946.7 C780.8,1946.3 783.1,1949.3 786.3,1954.4 C789.5,1959.5 793.1,1969.3 796.5,1977.3 C799.9,1985.4 803.3,1995.6 806.7,2002.9 C810.1,2010.1 812.7,2015.6 816.9,2020.7 C821.2,2025.8 826.3,2030.5 832.2,2033.5 C838.2,2036.4 843.7,2037.3 852.7,2038.6 C861.6,2039.8 873.9,2040.3 885.8,2041.1 C897.7,2042.0 911.3,2042.6 924.1,2043.7 C936.8,2044.7 951.7,2046.4 962.3,2047.5 C973.0,2048.6 980.2,2049.0 987.9,2050.1 C995.5,2051.1 1002.3,2051.5 1008.3,2053.9 C1014.2,2056.2 1019.3,2059.8 1023.6,2064.1 C1027.8,2068.3 1030.8,2073.4 1033.8,2079.4 C1036.8,2085.3 1038.9,2093.8 1041.4,2099.8 C1044.0,2105.7 1046.1,2110.9 1049.1,2115.1 C1052.1,2119.4 1056.7,2121.1 1059.3,2125.3 C1061.8,2129.6 1062.7,2133.8 1064.4,2140.6 C1066.1,2147.4 1067.4,2155.5 1069.5,2166.1 C1071.6,2176.8 1074.8,2194.6 1077.1,2204.4 C1079.5,2214.2 1081.4,2223.5 1083.5,2224.8 C1085.6,2226.1 1087.8,2221.8 1089.9,2212.0 C1092.0,2202.3 1094.6,2182.3 1096.3,2166.1 C1098.0,2150.0 1098.8,2131.3 1100.1,2115.1 C1101.4,2098.9 1102.2,2080.7 1103.9,2069.2 C1105.6,2057.7 1107.6,2050.9 1110.3,2046.2 C1113.0,2041.5 1112.2,2041.8 1120.0,2041.1 C1127.8,2040.4 1135.2,2041.6 1157.4,2042.1 C1179.6,2042.6 1218.0,2043.5 1253.1,2044.0 C1288.2,2044.5 1336.0,2044.7 1367.9,2045.2 C1399.8,2045.6 1418.9,2045.9 1444.4,2046.7 C1469.9,2047.5 1498.6,2047.6 1521.0,2049.8 C1543.3,2051.9 1561.7,2056.5 1578.4,2059.3 C1595.1,2062.1 1612.8,2063.9 1621.2,2066.4 C1629.6,2068.8 1625.9,2071.6 1628.9,2074.0 C1631.9,2076.5 1635.3,2079.6 1639.1,2081.0 C1642.9,2082.5 1648.4,2081.6 1651.8,2083.0 C1655.2,2084.3 1656.3,2086.8 1659.5,2089.3 C1662.7,2091.9 1667.4,2094.7 1671.0,2098.3 C1674.6,2101.9 1677.6,2107.2 1681.2,2111.0 C1684.8,2114.8 1689.0,2117.8 1692.7,2121.2 C1696.3,2124.6 1699.8,2126.6 1702.9,2131.4 C1705.9,2136.2 1706.4,2142.7 1710.9,2150.0 C1715.4,2157.3 1724.1,2165.9 1730.0,2175.5 C1735.9,2185.0 1741.7,2197.7 1746.5,2207.3 C1751.4,2216.8 1755.2,2223.2 1759.3,2232.7 C1763.3,2242.3 1767.1,2253.9 1770.7,2264.5 C1774.3,2275.2 1777.7,2286.8 1780.9,2296.4 C1784.1,2305.9 1786.9,2312.3 1789.8,2321.8 C1792.8,2331.4 1794.4,2339.2 1798.7,2353.6 C1803.1,2368.0 1811.4,2392.2 1816.0,2408.3 C1820.6,2424.3 1823.2,2437.0 1826.5,2450.0 C1829.9,2463.0 1833.2,2474.7 1836.2,2486.3 C1839.2,2497.9 1842.3,2509.8 1844.5,2519.5 C1846.7,2529.2 1847.5,2534.7 1849.5,2544.4 C1851.4,2554.1 1853.3,2566.5 1856.1,2577.5 C1858.9,2588.6 1861.9,2596.8 1866.0,2610.7 C1870.2,2624.6 1877.1,2649.1 1881.0,2661.0 C1884.9,2672.9 1886.6,2675.8 1889.4,2682.1 C1892.2,2688.4 1895.1,2695.0 1897.9,2698.9 C1900.7,2702.9 1903.5,2705.7 1906.3,2705.9 C1909.1,2706.2 1911.8,2707.1 1914.7,2700.3 C1917.6,2693.6 1921.0,2677.3 1923.7,2665.5 C1926.4,2653.8 1928.7,2641.8 1930.9,2629.9 C1933.0,2618.0 1935.0,2606.2 1936.8,2594.3 C1938.6,2582.4 1940.2,2570.6 1941.5,2558.7 C1942.9,2546.8 1943.9,2535.9 1945.1,2523.1 C1946.3,2510.2 1947.6,2495.4 1948.7,2481.5 C1949.8,2467.7 1950.8,2457.6 1951.6,2440.0 C1952.5,2422.4 1953.0,2397.1 1953.9,2375.8 C1954.9,2354.5 1956.1,2333.3 1957.1,2312.1 C1958.2,2290.9 1959.2,2269.7 1960.3,2248.5 C1961.4,2227.3 1962.4,2204.3 1963.5,2184.9 C1964.6,2165.4 1965.1,2157.8 1966.7,2131.8 C1968.2,2105.9 1970.9,2051.9 1972.7,2029.3 C1974.6,2006.6 1975.8,2006.6 1977.7,1996.1 C1979.6,1985.6 1981.8,1975.1 1984.3,1966.2 C1986.8,1957.4 1989.6,1948.7 1992.6,1943.0 C1995.7,1937.4 1998.7,1934.4 2002.6,1932.2 C2006.4,1930.0 2010.9,1929.9 2015.8,1929.8 C2020.8,1929.6 2024.1,1930.8 2032.4,1931.4 C2040.7,1932.0 2054.5,1933.1 2065.6,1933.4 C2076.6,1933.7 2093.2,1933.4 2098.8,1933.4" stroke="#ff0000" />
</g>
<g stroke="#000" stroke-width="5.6" stroke-linecap="butt">
<line x1="327.7" y1="75.2" x2="327.7" y2="1393" />
<line x1="299.0" y1="1364.7" x2="2092.8" y2="1364.7" />
<line x1="299.0" y1="78.0" x2="327.7" y2="78.0" />
<line x1="313.0" y1="206.7" x2="327.7" y2="206.7" />
<line x1="299.0" y1="335.3" x2="327.7" y2="335.3" />
<line x1="313.0" y1="464.0" x2="327.7" y2="464.0" />
<line x1="299.0" y1="592.7" x2="327.7" y2="592.7" />
<line x1="313.0" y1="721.4" x2="327.7" y2="721.4" />
<line x1="299.0" y1="850.0" x2="327.7" y2="850.0" />
<line x1="313.0" y1="978.7" x2="327.7" y2="978.7" />
<line x1="299.0" y1="1107.4" x2="327.7" y2="1107.4" />
<line x1="313.0" y1="1236.0" x2="327.7" y2="1236.0" />
<line x1="299.0" y1="1364.7" x2="327.7" y2="1364.7" />
<line x1="327.7" y1="1364.7" x2="327.7" y2="1393" />
<line x1="437.8" y1="1364.7" x2="437.8" y2="1379.2" />
<line x1="548.0" y1="1364.7" x2="548.0" y2="1393" />
<line x1="658.1" y1="1364.7" x2="658.1" y2="1379.2" />
<line x1="768.3" y1="1364.7" x2="768.3" y2="1393" />
<line x1="878.4" y1="1364.7" x2="878.4" y2="1379.2" />
<line x1="988.6" y1="1364.7" x2="988.6" y2="1393" />
<line x1="1098.7" y1="1364.7" x2="1098.7" y2="1379.2" />
<line x1="1208.8" y1="1364.7" x2="1208.8" y2="1393" />
<line x1="1319.0" y1="1364.7" x2="1319.0" y2="1379.2" />
<line x1="1429.1" y1="1364.7" x2="1429.1" y2="1393" />
<line x1="1539.3" y1="1364.7" x2="1539.3" y2="1379.2" />
<line x1="1649.4" y1="1364.7" x2="1649.4" y2="1393" />
<line x1="1759.6" y1="1364.7" x2="1759.6" y2="1379.2" />
<line x1="1869.7" y1="1364.7" x2="1869.7" y2="1393" />
<line x1="1979.9" y1="1364.7" x2="1979.9" y2="1379.2" />
<line x1="2090.0" y1="1364.7" x2="2090.0" y2="1393" />
<line x1="336.0" y1="1750.6000000000001" x2="336.0" y2="3068.5" />
<line x1="307.6" y1="3039.0" x2="2101.0" y2="3039.0" />
<line x1="307.6" y1="1753.4" x2="336.0" y2="1753.4" />
<line x1="321.6" y1="1860.5" x2="336.0" y2="1860.5" />
<line x1="307.6" y1="1967.7" x2="336.0" y2="1967.7" />
<line x1="321.6" y1="2074.8" x2="336.0" y2="2074.8" />
<line x1="307.6" y1="2181.9" x2="336.0" y2="2181.9" />
<line x1="321.6" y1="2289.1" x2="336.0" y2="2289.1" />
<line x1="307.6" y1="2396.2" x2="336.0" y2="2396.2" />
<line x1="321.6" y1="2503.3" x2="336.0" y2="2503.3" />
<line x1="307.6" y1="2610.5" x2="336.0" y2="2610.5" />
<line x1="321.6" y1="2717.6" x2="336.0" y2="2717.6" />
<line x1="307.6" y1="2824.7" x2="336.0" y2="2824.7" />
<line x1="321.6" y1="2931.9" x2="336.0" y2="2931.9" />
<line x1="307.6" y1="3039.0" x2="336.0" y2="3039.0" />
<line x1="336.0" y1="3039.0" x2="336.0" y2="3068.5" />
<line x1="446.1" y1="3039.0" x2="446.1" y2="3053.5" />
<line x1="556.3" y1="3039.0" x2="556.3" y2="3068.5" />
<line x1="666.4" y1="3039.0" x2="666.4" y2="3053.5" />
<line x1="776.5" y1="3039.0" x2="776.5" y2="3068.5" />
<line x1="886.7" y1="3039.0" x2="886.7" y2="3053.5" />
<line x1="996.8" y1="3039.0" x2="996.8" y2="3068.5" />
<line x1="1107.0" y1="3039.0" x2="1107.0" y2="3053.5" />
<line x1="1217.1" y1="3039.0" x2="1217.1" y2="3068.5" />
<line x1="1327.2" y1="3039.0" x2="1327.2" y2="3053.5" />
<line x1="1437.4" y1="3039.0" x2="1437.4" y2="3068.5" />
<line x1="1547.5" y1="3039.0" x2="1547.5" y2="3053.5" />
<line x1="1657.6" y1="3039.0" x2="1657.6" y2="3068.5" />
<line x1="1767.8" y1="3039.0" x2="1767.8" y2="3053.5" />
<line x1="1877.9" y1="3039.0" x2="1877.9" y2="3068.5" />
<line x1="1988.1" y1="3039.0" x2="1988.1" y2="3053.5" />
<line x1="2098.2" y1="3039.0" x2="2098.2" y2="3068.5" />
</g>
<g font-family="Liberation Serif, serif" font-weight="bold" font-size="57" fill="#000">
<text x="284" y="93.5" text-anchor="end">0.5</text>
<text x="284" y="350.8" text-anchor="end">0.0</text>
<text x="284" y="608.2" text-anchor="end">-0.5</text>
<text x="284" y="865.5" text-anchor="end">-1.0</text>
<text x="284" y="1122.9" text-anchor="end">-1.5</text>
<text x="284" y="1380.2" text-anchor="end">-2.0</text>
<text x="327.7" y="1454.0" text-anchor="middle">0</text>
<text x="548.0" y="1454.0" text-anchor="middle">50</text>
<text x="768.3" y="1454.0" text-anchor="middle">100</text>
<text x="988.6" y="1454.0" text-anchor="middle">150</text>
<text x="1208.8" y="1454.0" text-anchor="middle">200</text>
<text x="1429.1" y="1454.0" text-anchor="middle">250</text>
<text x="1649.4" y="1454.0" text-anchor="middle">300</text>
<text x="1869.7" y="1454.0" text-anchor="middle">350</text>
<text x="2090.0" y="1454.0" text-anchor="middle">400</text>
<text x="302.5" y="1792.9" text-anchor="end">0.5</text>
<text x="302.5" y="2007.2" text-anchor="end">0.0</text>
<text x="302.5" y="2221.4" text-anchor="end">-0.5</text>
<text x="302.5" y="2435.7" text-anchor="end">-1.0</text>
<text x="302.5" y="2650.0" text-anchor="end">-1.5</text>
<text x="302.5" y="2864.2" text-anchor="end">-2.0</text>
<text x="302.5" y="3078.5" text-anchor="end">-2.5</text>
<text x="336.0" y="3128.6" text-anchor="middle">0</text>
<text x="556.3" y="3128.6" text-anchor="middle">50</text>
<text x="776.5" y="3128.6" text-anchor="middle">100</text>
<text x="996.8" y="3128.6" text-anchor="middle">150</text>
<text x="1217.1" y="3128.6" text-anchor="middle">200</text>
<text x="1437.4" y="3128.6" text-anchor="middle">250</text>
<text x="1657.6" y="3128.6" text-anchor="middle">300</text>
<text x="1877.9" y="3128.6" text-anchor="middle">350</text>
<text x="2098.2" y="3128.6" text-anchor="middle">400</text>
</g>
<text x="741" y="243.3" fill="#000" font-family="Liberation Serif, serif" font-weight="bold" font-size="63">PF+24%TR-EX</text>
<line x1="885" y1="265.7" x2="885.0" y2="342.0" stroke="#000" stroke-width="1.9"/><polygon points="885,374 877.0,342.0 893.0,342.0" fill="#000"/>
<text x="1598" y="422" fill="#f00" font-family="Liberation Serif, serif" font-weight="bold" font-size="63">PLA Film</text>
<line x1="1683.5" y1="439" x2="1683.5" y2="474.7" stroke="#f00" stroke-width="1.9"/><polygon points="1683.5,510.7 1674.5,474.7 1692.5,474.7" fill="#f00"/>
<text x="1227" y="945" fill="#00f" font-family="Liberation Serif, serif" font-weight="bold" font-size="63">PF+14%TR-EX</text>
<line x1="1668.8" y1="918.3" x2="1707.5" y2="919.3" stroke="#00f" stroke-width="1.9"/><polygon points="1741.5,920.2 1707.3,927.9 1707.7,910.7" fill="#00f"/>
<text x="1309" y="1126.8" fill="#0f0" font-family="Liberation Serif, serif" font-weight="bold" font-size="63">PF+18%TR-EX</text>
<line x1="1750.7" y1="1103.3" x2="1801.1" y2="1099.9" stroke="#0f0" stroke-width="1.9"/><polygon points="1834,1097.6 1801.6,1107.8 1800.5,1091.9" fill="#0f0"/>
<text x="830" y="1848.1" fill="#000" font-family="Liberation Serif, serif" font-weight="bold" font-size="63">PF+24%EA-EX</text>
<line x1="866.7" y1="1854.6" x2="832.1" y2="1901.5" stroke="#000" stroke-width="1.9"/><polygon points="813.1,1927.3 825.7,1896.8 838.5,1906.3" fill="#000"/>
<text x="1570" y="2023.6" fill="#f00" font-family="Liberation Serif, serif" font-weight="bold" font-size="63">PLA Film</text>
<line x1="1698.4" y1="2034.8" x2="1698.4" y2="2085.6" stroke="#f00" stroke-width="1.9"/><polygon points="1698.4,2119.6 1689.4,2085.6 1707.4,2085.6" fill="#f00"/>
<text x="1279.5" y="2554.9" fill="#0f0" font-family="Liberation Serif, serif" font-weight="bold" font-size="63">PF+18%EA-EX</text>
<line x1="1717.9" y1="2529.5" x2="1750.9" y2="2531.7" stroke="#0f0" stroke-width="1.9"/><polygon points="1784.8,2533.9 1750.3,2539.7 1751.4,2523.7" fill="#0f0"/>
<text x="1342" y="2811" fill="#00f" font-family="Liberation Serif, serif" font-weight="bold" font-size="63">PF+14%EA-EX</text>
<line x1="1791.5" y1="2785.6" x2="1834.9" y2="2804.6" stroke="#00f" stroke-width="1.9"/><polygon points="1866,2818.2 1831.6,2811.9 1838.1,2797.2" fill="#00f"/>
<text transform="translate(85,986.5) rotate(-90)" font-family="Liberation Serif, serif" font-weight="bold" font-size="70">Heat Flow,mw/mg</text>
<text transform="translate(93,2662) rotate(-90)" font-family="Liberation Serif, serif" font-weight="bold" font-size="70">Heat Flow,mw/mg</text>
<text x="968" y="1565" font-family="Liberation Serif, serif" font-weight="bold" font-size="71">Temperature,</text>
<text transform="translate(1376,1565) scale(1.1,1)" font-family="Noto Sans CJK SC, sans-serif" font-weight="300" font-size="68">&#8451;</text>
<text x="976" y="3240.4" font-family="Liberation Serif, serif" font-weight="bold" font-size="71">Temperature,</text>
<text transform="translate(1384,3240.4) scale(1.1,1)" font-family="Noto Sans CJK SC, sans-serif" font-weight="300" font-size="68">&#8451;</text>
</svg>
</body></html>
